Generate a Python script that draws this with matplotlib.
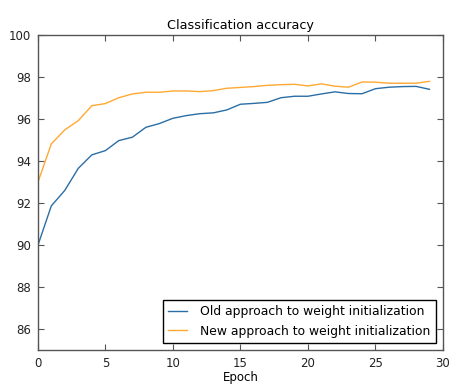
import matplotlib
matplotlib.use("Agg")
import matplotlib.pyplot as plt

epochs = list(range(30))
old_acc = [89.97, 91.86, 92.60, 93.65, 94.29, 94.49, 94.97, 95.13, 95.60, 95.78,
           96.03, 96.16, 96.25, 96.29, 96.43, 96.70, 96.74, 96.79, 97.01, 97.08,
           97.08, 97.19, 97.29, 97.21, 97.20, 97.44, 97.51, 97.54, 97.55, 97.41]
new_acc = [92.97, 94.81, 95.48, 95.92, 96.63, 96.73, 97.01, 97.19, 97.27, 97.27,
           97.33, 97.33, 97.30, 97.35, 97.46, 97.50, 97.54, 97.60, 97.63, 97.65,
           97.57, 97.67, 97.56, 97.51, 97.76, 97.75, 97.70, 97.70, 97.70, 97.79]
yticks = [86, 88, 90, 92, 94, 96, 98, 100]
xticks = [0, 5, 10, 15, 20, 25, 30]

fig = plt.figure(figsize=(4.61, 3.88), dpi=100)
ax = fig.add_axes([0.082, 0.098, 0.879, 0.812])

ax.plot(epochs, old_acc, color='#2A6EA6', lw=1.0,
        label="Old approach to weight initialization")
ax.plot(epochs, new_acc, color='#FFA933', lw=1.0,
        label="New approach to weight initialization")

ax.set_xlim(0, 30)
ax.set_ylim(85, 100)
ax.set_xticks(xticks)
ax.set_yticks(yticks)
ax.tick_params(direction='in', top=True, right=True, labelsize=8.5, length=4,
               colors='#555555', labelcolor='#222222', pad=5)
for s in ax.spines.values():
    s.set_color('#555555')
    s.set_linewidth(1.0)

ax.set_title("Classification accuracy", fontsize=9.2, pad=4)
ax.set_xlabel("Epoch", fontsize=8.5, labelpad=1)

leg = ax.legend(loc='lower right', fontsize=8.9, fancybox=False, framealpha=1,
                borderaxespad=0.55, handlelength=1.5, handletextpad=1.1,
                borderpad=0.45)
leg.get_frame().set_edgecolor('black')
leg.get_frame().set_linewidth(1.0)

fig.savefig("out.png", dpi=100)
